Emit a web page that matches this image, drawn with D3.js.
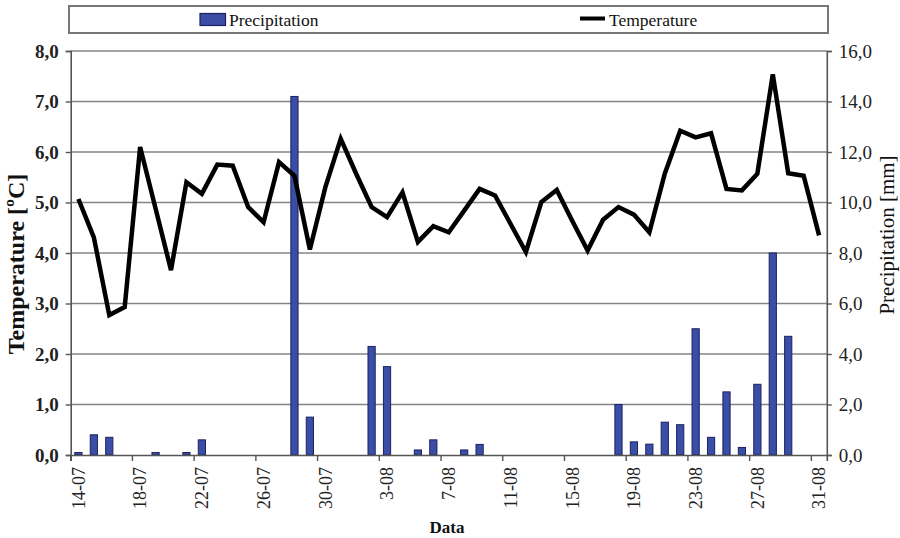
<!DOCTYPE html>
<html>
<head>
<meta charset="utf-8">
<script src="https://cdn.jsdelivr.net/npm/d3@7/dist/d3.min.js"></script>
<style>
  html, body { margin: 0; padding: 0; background: #fff; }
  svg { display: block; font-family: "Liberation Serif", "Times New Roman", serif; }
</style>
</head>
<body>
<svg id="chart" width="900" height="538"></svg>
<script>
const dates = ["14-07","15-07","16-07","17-07","18-07","19-07","20-07","21-07","22-07","23-07","24-07","25-07","26-07","27-07","28-07","29-07","30-07","31-07",
  "1-08","2-08","3-08","4-08","5-08","6-08","7-08","8-08","9-08","10-08","11-08","12-08","13-08","14-08","15-08","16-08","17-08","18-08","19-08","20-08",
  "21-08","22-08","23-08","24-08","25-08","26-08","27-08","28-08","29-08","30-08","31-08"];
const tickDates = ["14-07","18-07","22-07","26-07","30-07","3-08","7-08","11-08","15-08","19-08","23-08","27-08","31-08"];
const temperature = [5.07,4.31,2.77,2.93,6.10,4.88,3.66,5.40,5.17,5.75,5.73,4.91,4.61,5.80,5.53,4.07,5.30,6.26,5.57,4.91,4.71,5.20,4.22,4.53,4.41,
  4.84,5.27,5.14,4.58,4.02,5.01,5.25,4.64,4.05,4.66,4.91,4.76,4.41,5.57,6.42,6.29,6.37,5.27,5.24,5.57,7.54,5.58,5.53,4.35];
const precipitation = [0.1,0.8,0.7,0,0,0.1,0,0.1,0.6,0,0,0,0,0,14.2,1.5,0,0,0,4.3,3.5,0,0.2,0.6,0,
  0.2,0.42,0,0,0,0,0,0,0,0,2.0,0.52,0.43,1.3,1.2,5.0,0.7,2.5,0.3,2.8,8.0,4.7,0,0];
const leftTicks = [0,1,2,3,4,5,6,7,8];
const rightTicks = [0,2,4,6,8,10,12,14,16];

const FONT = "'Liberation Serif', 'Times New Roman', serif";
const svg = d3.select("#chart");
const L = 70.7, R = 826.8, T = 51, B = 455;

const x = d3.scaleBand().domain(dates).range([L, R]).padding(0);
const yL = d3.scaleLinear().domain([0, 8]).range([B, T]);
const yR = d3.scaleLinear().domain([0, 16]).range([B, T]);
const bw = x.bandwidth();
const fmt = v => d3.format(".1f")(v).replace(".", ",");

// legend box
svg.append("rect").attr("x", 69).attr("y", 6).attr("width", 759).attr("height", 27)
  .attr("fill", "#fff").attr("stroke", "#777").attr("stroke-width", 2);
svg.append("rect").attr("x", 200).attr("y", 13.5).attr("width", 25.5).attr("height", 12)
  .attr("fill", "#3b4ea6").attr("stroke", "#1c2060").attr("stroke-width", 1.2);
svg.append("text").attr("x", 229).attr("y", 25.5).attr("font-size", 17.5).attr("fill", "#111").text("Precipitation");
svg.append("line").attr("x1", 580).attr("x2", 605).attr("y1", 18.5).attr("y2", 18.5)
  .attr("stroke", "#000").attr("stroke-width", 4);
svg.append("text").attr("x", 609).attr("y", 25.5).attr("font-size", 17.5).attr("fill", "#111").text("Temperature");

// gridlines
svg.append("g").selectAll("line").data(leftTicks.filter(d => d > 0)).join("line")
  .attr("x1", L).attr("x2", R).attr("y1", d => yL(d)).attr("y2", d => yL(d))
  .attr("stroke", "#858585").attr("stroke-width", 1.6);

// bars
svg.append("g").selectAll("rect").data(precipitation.map((v, i) => ({d: dates[i], v})).filter(o => o.v > 0)).join("rect")
  .attr("x", o => x(o.d) + bw / 2 - 3.6)
  .attr("width", 7.2)
  .attr("y", o => yR(o.v))
  .attr("height", o => B - yR(o.v))
  .attr("fill", "#3b4ea6").attr("stroke", "#1c2060").attr("stroke-width", 1);

// line
const line = d3.line().x((v, i) => x(dates[i]) + bw / 2).y(v => yL(v));
svg.append("path").datum(temperature).attr("d", line)
  .attr("fill", "none").attr("stroke", "#000").attr("stroke-width", 4.5).attr("stroke-linejoin", "miter");

// left axis
const gL = svg.append("g").attr("transform", `translate(${L},0)`)
  .call(d3.axisLeft(yL).tickValues(leftTicks).tickFormat(fmt).tickSize(5).tickPadding(7));
gL.attr("font-family", FONT);
gL.select(".domain").attr("stroke", "#555").attr("stroke-width", 1.6);
gL.selectAll(".tick line").attr("stroke", "#555").attr("stroke-width", 1.4);
gL.selectAll(".tick text").attr("font-size", 19).attr("font-weight", "bold").attr("fill", "#222");

// right axis
const gR = svg.append("g").attr("transform", `translate(${R},0)`)
  .call(d3.axisRight(yR).tickValues(rightTicks).tickFormat(fmt).tickSize(5).tickPadding(7));
gR.attr("font-family", FONT);
gR.select(".domain").attr("stroke", "#555").attr("stroke-width", 1.6);
gR.selectAll(".tick line").attr("stroke", "#555").attr("stroke-width", 1.4);
gR.selectAll(".tick text").attr("font-size", 19).attr("fill", "#222");

// bottom axis
const gB = svg.append("g").attr("transform", `translate(0,${B})`)
  .call(d3.axisBottom(x).tickValues(tickDates).tickSize(6));
gB.attr("font-family", FONT);
gB.select(".domain").attr("stroke", "#555").attr("stroke-width", 1.6);
gB.selectAll(".tick line").attr("x1", -bw / 2).attr("x2", -bw / 2).attr("stroke", "#555").attr("stroke-width", 1.4);
gB.selectAll(".tick text")
  .attr("transform", "rotate(-90)")
  .attr("x", -12).attr("y", 0).attr("dy", "0.35em")
  .attr("text-anchor", "end")
  .attr("font-size", 18).attr("fill", "#222");

// axis titles
svg.append("text").attr("transform", "translate(24,264) rotate(-90)").attr("text-anchor", "middle")
  .attr("font-size", 24).attr("font-weight", "bold").attr("fill", "#111").text("Temperature [ºC]");
svg.append("text").attr("transform", "translate(894,235) rotate(-90)").attr("text-anchor", "middle")
  .attr("font-size", 21).attr("fill", "#111").text("Precipitation [mm]");
svg.append("text").attr("x", 447).attr("y", 533).attr("text-anchor", "middle")
  .attr("font-size", 17).attr("font-weight", "bold").attr("fill", "#111").text("Data");
</script>
</body>
</html>
